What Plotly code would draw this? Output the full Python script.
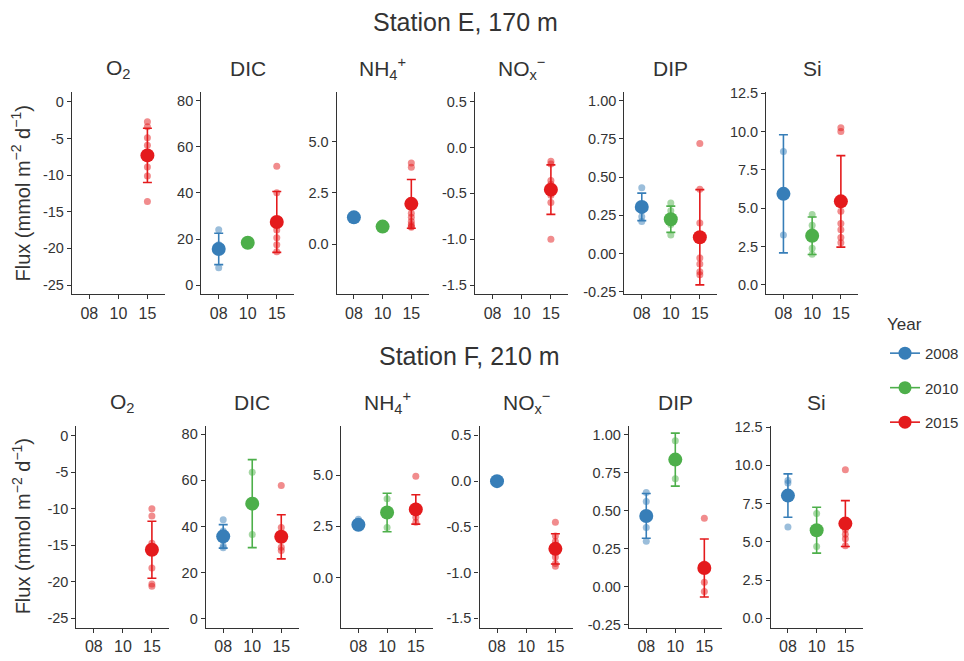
import plotly.graph_objects as go
from plotly.subplots import make_subplots

years = ['2008', '2010', '2015']
year_ticks = ['08', '10', '15']
colors = ['#377EB8', '#4DAF4A', '#E41A1C']
variables = ['O2', 'DIC', 'NH4', 'NOx', 'DIP', 'Si']
panel_titles = ['O<sub>2</sub>', 'DIC', 'NH<sub>4</sub><sup>+</sup>',
                'NO<sub>x</sub><sup>−</sup>', 'DIP', 'Si']
station_titles = ['Station E, 170 m', 'Station F, 210 m']

# Station E, 170 m  (raw cores per year, mean, sd)
e_o2_raw = [[], [], [-2.7, -3.4, -4.9, -5.9, -7.0, -8.9, -10.1, -13.6]]
e_o2_mean = [None, None, -7.3]
e_o2_sd = [None, None, 3.7]
e_dic_raw = [[24.0, 17.5, 14.5, 7.6], [17.5, 18.2, 19.3], [51.5, 40.0, 27.5, 23.9, 20.5, 17.5, 14.5]]
e_dic_mean = [15.7, 18.4, 27.4]
e_dic_sd = [6.8, 1.0, 13.2]
e_nh4_raw = [[1.2, 1.35, 1.4], [0.8, 0.9], [3.95, 3.75, 1.5, 1.3, 1.1, 0.95, 0.85, 0.82]]
e_nh4_mean = [1.30, 0.85, 1.96]
e_nh4_sd = [0.1, 0.05, 1.19]
e_nox_raw = [[], [], [-0.15, -0.18, -0.36, -0.40, -0.47, -0.52, -0.60, -1.0]]
e_nox_mean = [None, None, -0.46]
e_nox_sd = [None, None, 0.27]
e_dip_raw = [[0.43, 0.32, 0.28, 0.24, 0.21], [0.33, 0.28, 0.24, 0.19, 0.12],
             [0.72, 0.42, 0.20, -0.03, -0.07, -0.12, -0.14]]
e_dip_mean = [0.305, 0.224, 0.106]
e_dip_sd = [0.09, 0.086, 0.312]
e_si_raw = [[8.7, 3.25], [4.6, 3.9, 3.5, 2.4, 2.0], [10.25, 10.0, 4.8, 4.0, 3.6, 3.1, 2.75]]
e_si_mean = [5.94, 3.21, 5.45]
e_si_sd = [3.85, 1.22, 2.98]

# Station F, 210 m
f_o2_raw = [[], [], [-10.0, -11.0, -14.7, -15.5, -18.1, -20.3, -20.6]]
f_o2_mean = [None, None, -15.6]
f_o2_sd = [None, None, 3.9]
f_dic_raw = [[42.9, 38.0, 34.0, 31.5, 30.7], [63.5, 36.5], [57.8, 39.5, 35.0, 31.0, 29.6]]
f_dic_mean = [35.7, 49.9, 35.5]
f_dic_sd = [5.1, 19.1, 9.6]
f_nh4_raw = [[2.85, 2.7, 2.55, 2.45], [3.85, 2.45], [4.95, 3.5, 3.2, 2.95, 2.7]]
f_nh4_mean = [2.58, 3.18, 3.33]
f_nh4_sd = [0.12, 0.94, 0.72]
f_nox_raw = [[0.0], [], [-0.45, -0.60, -0.66, -0.83, -0.90, -0.93]]
f_nox_mean = [0.0, None, -0.74]
f_nox_sd = [0.0, None, 0.165]
f_dip_raw = [[0.62, 0.56, 0.39, 0.30], [0.96, 0.71], [0.45, 0.15, 0.03, -0.03]]
f_dip_mean = [0.466, 0.836, 0.124]
f_dip_sd = [0.147, 0.174, 0.19]
f_si_raw = [[9.0, 8.85, 5.97], [6.85, 4.7], [9.7, 5.8, 5.5, 5.2, 4.75]]
f_si_mean = [8.02, 5.76, 6.19]
f_si_sd = [1.42, 1.5, 1.5]

# y tick values / labels per variable
o2_ticks = [0, -5, -10, -15, -20, -25]
o2_labels = ['0', '-5', '-10', '-15', '-20', '-25']
dic_ticks = [0, 20, 40, 60, 80]
dic_labels = ['0', '20', '40', '60', '80']
nh4_ticks = [0.0, 2.5, 5.0]
nh4_labels = ['0.0', '2.5', '5.0']
nox_ticks = [0.5, 0.0, -0.5, -1.0, -1.5]
nox_labels = ['0.5', '0.0', '-0.5', '-1.0', '-1.5']
dip_ticks = [1.0, 0.75, 0.5, 0.25, 0.0, -0.25]
dip_labels = ['1.00', '0.75', '0.50', '0.25', '0.00', '-0.25']
si_ticks = [0.0, 2.5, 5.0, 7.5, 10.0, 12.5]
si_labels = ['0.0', '2.5', '5.0', '7.5', '10.0', '12.5']

stations = [
    [(e_o2_raw, e_o2_mean, e_o2_sd), (e_dic_raw, e_dic_mean, e_dic_sd),
     (e_nh4_raw, e_nh4_mean, e_nh4_sd), (e_nox_raw, e_nox_mean, e_nox_sd),
     (e_dip_raw, e_dip_mean, e_dip_sd), (e_si_raw, e_si_mean, e_si_sd)],
    [(f_o2_raw, f_o2_mean, f_o2_sd), (f_dic_raw, f_dic_mean, f_dic_sd),
     (f_nh4_raw, f_nh4_mean, f_nh4_sd), (f_nox_raw, f_nox_mean, f_nox_sd),
     (f_dip_raw, f_dip_mean, f_dip_sd), (f_si_raw, f_si_mean, f_si_sd)],
]
ticks = [(o2_ticks, o2_labels), (dic_ticks, dic_labels), (nh4_ticks, nh4_labels),
         (nox_ticks, nox_labels), (dip_ticks, dip_labels), (si_ticks, si_labels)]

# layout in pixels
W, H = 964, 661
y_ranges = [[-26.25, 1.3], [-3.9, 83.5], [-2.45, 7.4], [-1.6, 0.6], [-0.267, 1.055], [-0.6, 12.55]]
col_px = [(72, 165), (201.5, 294.5), (337, 429), (475.5, 569), (625, 718), (767, 859)]
row_shift = [0, 4.5]
row_px = [(87, 292.5), (427, 632)]
title_y = [63, 403]
station_y = [15, 355]
station_x = [466, 470]
ylab_y = [190, 529]

FONT = 'Liberation Sans, Arial, sans-serif'
TXT = '#333333'


def px(x):
    return x / W


def py(y):
    return 1 - y / H


fig = make_subplots(rows=2, cols=6)

for r in range(2):
    for c in range(6):
        raw, mean, sd = stations[r][c]
        for k in range(3):
            if mean[k] is None:
                continue
            # error bar
            fig.add_trace(go.Scatter(x=[k + 1], y=[mean[k]], mode='markers',
                                     marker=dict(size=2, color='rgba(0,0,0,0)'),
                                     error_y=dict(type='data', array=[sd[k]], color=colors[k],
                                                  thickness=1.6, width=4.5),
                                     showlegend=False, hoverinfo='skip'),
                          row=r + 1, col=c + 1)
            # individual cores
            fig.add_trace(go.Scatter(x=[k + 1] * len(raw[k]), y=raw[k], mode='markers',
                                     marker=dict(size=7, color=colors[k], opacity=0.5),
                                     showlegend=False),
                          row=r + 1, col=c + 1)
            # mean
            fig.add_trace(go.Scatter(x=[k + 1], y=[mean[k]], mode='markers',
                                     marker=dict(size=14, color=colors[k]),
                                     showlegend=False),
                          row=r + 1, col=c + 1)

# legend entries
for k in range(3):
    fig.add_trace(go.Scatter(x=[None], y=[None], mode='lines+markers', name=years[k],
                             legendgroup=years[k],
                             line=dict(color=colors[k], width=1.6),
                             marker=dict(size=13, color=colors[k])),
                  row=1, col=1)

for r in range(2):
    for c in range(6):
        n = r * 6 + c + 1
        sx = '' if n == 1 else str(n)
        x0, x1 = col_px[c]
        fig.layout['xaxis' + sx].update(
            domain=[px(x0 + row_shift[r]), px(x1 + row_shift[r])],
            range=[0.4, 3.6], tickvals=[1, 2, 3], ticktext=year_ticks,
            showline=True, linecolor='#333333', linewidth=1.3,
            ticks='outside', ticklen=4, tickcolor='#333333', tickwidth=1.3,
            showgrid=False, zeroline=False,
            tickfont=dict(family=FONT, size=16, color=TXT))
        fig.layout['yaxis' + sx].update(
            domain=[py(row_px[r][1]), py(row_px[r][0])],
            range=y_ranges[c], tickvals=ticks[c][0], ticktext=ticks[c][1],
            showline=True, linecolor='#333333', linewidth=1.3,
            ticks='outside', ticklen=4, tickcolor='#333333', tickwidth=1.3,
            showgrid=False, zeroline=False,
            tickfont=dict(family=FONT, size=14.5, color=TXT))

annotations = []
for r in range(2):
    annotations.append(dict(text=station_titles[r], x=px(station_x[r]), y=py(station_y[r]),
                            xref='paper', yref='paper', showarrow=False,
                            xanchor='center', yanchor='middle',
                            font=dict(family=FONT, size=25, color=TXT)))
    annotations.append(dict(text='Flux (mmol m<sup>−2</sup> d<sup>−1</sup>)', textangle=-90,
                            x=px(21), y=py(ylab_y[r]), xref='paper', yref='paper',
                            xanchor='center', yanchor='middle',
                            showarrow=False, font=dict(family=FONT, size=20, color=TXT)))
    for c in range(6):
        x0, x1 = col_px[c]
        annotations.append(dict(text=panel_titles[c],
                                x=px((x0 + x1) / 2 + row_shift[r]), y=py(title_y[r]),
                                xref='paper', yref='paper', showarrow=False,
                                xanchor='center', yanchor='middle',
                                font=dict(family=FONT, size=21, color=TXT)))

# legend title
annotations.append(dict(text='Year', x=px(886), y=py(323), xref='paper', yref='paper',
                        xanchor='left', yanchor='middle', showarrow=False,
                        font=dict(family=FONT, size=17, color=TXT)))

fig.update_layout(
    width=W, height=H, autosize=False,
    margin=dict(l=0, r=0, t=0, b=0),
    paper_bgcolor='white', plot_bgcolor='white',
    annotations=annotations,
    legend=dict(x=px(886), y=py(336), xanchor='left', yanchor='top',
                font=dict(family=FONT, size=15, color=TXT),
                tracegroupgap=12, bgcolor='rgba(0,0,0,0)'),
)

# page body has a default 8px margin; drop it so the figure fills the window
fig.write_html('out.html', config={'displayModeBar': False},
               post_script="document.body.style.margin='0px';")
